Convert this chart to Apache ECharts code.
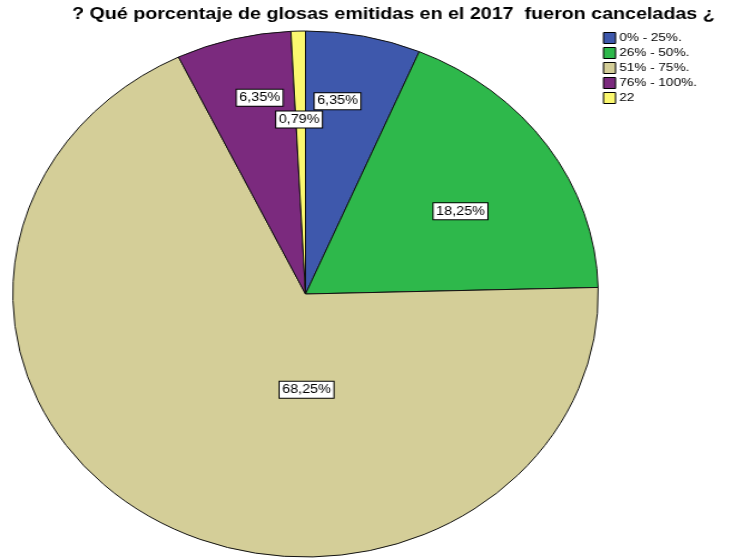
<!DOCTYPE html>
<html>
<head>
<meta charset="utf-8">
<script src="https://cdn.jsdelivr.net/npm/echarts@6/dist/echarts.min.js"></script>
<style>
  html, body { margin: 0; padding: 0; background: #fff; }
  .wrap { position: relative; width: 731px; height: 558px; overflow: hidden; }
  #pie, #main { position: absolute; left: 0; top: 0; width: 731px; height: 558px;
                transform-origin: 305.5px 294px; }
  #pie { transform: scaleX(1.113); }
  #main { transform: scaleX(1.2); }
</style>
</head>
<body>
<div class="wrap">
  <div id="pie"></div>
  <div id="main"></div>
</div>
<script>
const titleText = '? Qué porcentaje de glosas emitidas en el 2017  fueron canceladas ¿'
const categories = ['0% - 25%.', '26% - 50%.', '51% - 75%.', '76% - 100%.', '22']
const counts = [8, 23, 86, 8, 1]
const colors = ['#3e58ac', '#2eb84b', '#d4ce98', '#7b2a7e', '#fbf86f']

const total = counts.reduce((a, b) => a + b, 0)
const font = 'Liberation Sans, Arial, sans-serif'
const cx = 305.5, cy = 294
const R = 263
// the SPSS export is stretched sideways; text layer uses this factor
const S = 1.2
const sx = x => cx + (x - cx) / S   // screen x -> text layer x

// nudges for the label boxes (SPSS puts them off the middle of the slice)
const labelDx = [0, 18, 71, -5, -2]
const labelDy = [-61, -7, -19, -66, -40]

// pie itself, stretched horizontally with css to get the ellipse
const pieChart = echarts.init(document.getElementById('pie'))
pieChart.setOption({
  animation: false,
  series: [{
    type: 'pie',
    center: [cx, cy],
    radius: [0, R],
    startAngle: 90,
    clockwise: true,
    silent: true,
    label: { show: false },
    labelLine: { show: false },
    itemStyle: { borderColor: '#111', borderWidth: 1 },
    data: categories.map((c, i) => ({ name: c, value: counts[i], itemStyle: { color: colors[i] } }))
  }]
})

// title, legend and labels
const chart = echarts.init(document.getElementById('main'))
chart.setOption({
  animation: false,
  title: {
    text: titleText,
    left: sx(72),
    top: 6,
    padding: 0,
    textStyle: { fontFamily: font, fontSize: 16.4, fontWeight: 'bold', color: '#000' }
  },
  legend: {
    orient: 'vertical',
    left: sx(603),
    top: 32,
    padding: 0,
    icon: 'rect',
    itemWidth: 10,
    itemHeight: 11,
    itemGap: 3,
    selectedMode: false,
    itemStyle: { borderColor: '#000', borderWidth: 1 },
    textStyle: { fontFamily: font, fontSize: 11.3, color: '#000', padding: [0, 0, 0, -2] },
    data: categories.map((c, i) => ({ name: c, itemStyle: { color: colors[i] } }))
  },
  series: [{
    type: 'pie',
    center: [cx, cy],
    radius: [0, R],
    startAngle: 90,
    clockwise: true,
    silent: true,
    itemStyle: { color: 'transparent', borderWidth: 0 },
    labelLine: { show: false },
    label: {
      show: true,
      position: 'inside',
      fontFamily: font,
      fontSize: 12,
      color: '#000',
      backgroundColor: '#fff',
      borderColor: '#000',
      borderWidth: 1,
      padding: [2, 2, 2, 2],
      formatter: p => (p.value / total * 100).toFixed(2).replace('.', ',') + '%'
    },
    labelLayout: p => ({ dx: labelDx[p.dataIndex], dy: labelDy[p.dataIndex] }),
    data: categories.map((c, i) => ({ name: c, value: counts[i] }))
  }]
})
</script>
</body>
</html>
